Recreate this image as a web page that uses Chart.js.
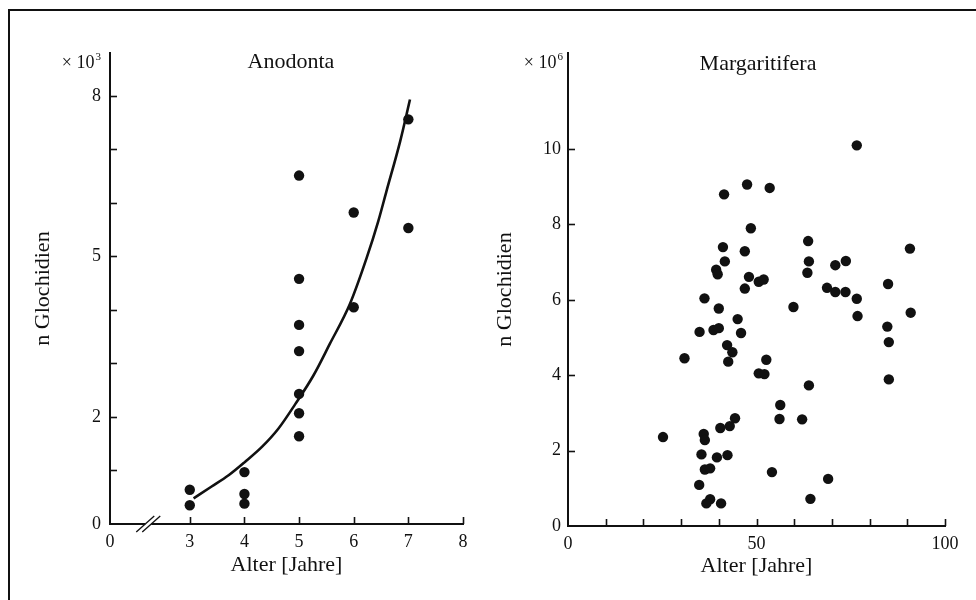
<!DOCTYPE html>
<html>
<head>
<meta charset="utf-8">
<script src="https://cdn.jsdelivr.net/npm/chart.js@4.4.1/dist/chart.umd.min.js"></script>
<style>
  html, body { margin: 0; background: #fff; overflow: hidden; }
  #frame { position: absolute; left: 8px; top: 9px; width: 980px; height: 600px;
           border-top: 2px solid #111; border-left: 2px solid #111; }
  .panel { position: absolute; top: 0; width: 488px; height: 600px; }
</style>
</head>
<body>
<div id="frame"></div>
<div class="panel" style="left:0"><canvas id="anodonta" width="488" height="600"></canvas></div>
<div class="panel" style="left:488px"><canvas id="margaritifera" width="488" height="600"></canvas></div>
<script>
// Anodonta: age (years) vs. glochidia (x 10^3)
const anodontaAge = [3, 3, 4, 4, 4, 5, 5, 5, 5, 5, 5, 5, 6, 6, 7, 7];
const anodontaCount = [0.64, 0.35, 0.97, 0.56, 0.38, 6.51, 4.58, 3.72, 3.23, 2.43, 2.07, 1.64, 5.82, 4.05, 7.56, 5.53];
// fitted curve
const fitAge = [3.07, 3.4, 3.71, 4.01, 4.32, 4.62, 4.93, 5.26, 5.56, 5.93, 6.24, 6.45, 6.6, 6.85, 7.03];
const fitCount = [0.48, 0.7, 0.91, 1.16, 1.44, 1.78, 2.24, 2.77, 3.36, 4.11, 4.98, 5.66, 6.22, 7.15, 7.93];

// Margaritifera: age (years) vs. glochidia (x 10^6)
const margAge = [76.6, 47.5, 53.5, 41.4, 48.5, 63.7, 41.1, 90.7, 46.9, 41.6, 63.9, 73.7, 70.9, 39.3, 39.7, 63.5, 48.0,
  50.6, 51.9, 84.9, 46.9, 68.7, 70.9, 73.6, 36.2, 76.6, 59.8, 40.0, 76.8, 90.9, 45.0, 34.9, 38.6, 40.0, 45.9, 84.7,
  85.1, 42.2, 43.6, 42.5, 30.9, 52.6, 50.6, 52.1, 85.1, 63.9, 56.3, 56.1, 62.1, 44.3, 42.9, 40.4, 25.2, 36.0, 36.3,
  35.4, 39.5, 42.3, 36.3, 37.7, 54.1, 69.0, 34.8, 37.7, 36.7, 40.6, 64.3];
const margCount = [10.1, 9.06, 8.97, 8.8, 7.9, 7.56, 7.4, 7.36, 7.29, 7.02, 7.02, 7.03, 6.92, 6.8, 6.68, 6.72, 6.61,
  6.48, 6.54, 6.42, 6.3, 6.32, 6.21, 6.21, 6.04, 6.03, 5.81, 5.77, 5.57, 5.66, 5.49, 5.15, 5.2, 5.25, 5.12, 5.29,
  4.88, 4.8, 4.61, 4.36, 4.45, 4.41, 4.05, 4.03, 3.89, 3.73, 3.21, 2.84, 2.83, 2.86, 2.65, 2.6, 2.36, 2.44, 2.28,
  1.9, 1.82, 1.88, 1.5, 1.53, 1.43, 1.25, 1.09, 0.71, 0.6, 0.6, 0.72];

// ticks
const leftXOrigin = 1.54; // start of the broken x axis, labelled "0"
const leftXTicks = [3, 4, 5, 6, 7, 8];
const leftYTicks = [0, 1, 2, 3, 4, 5, 6, 7, 8];
const leftYLabels = [0, 2, 5, 8];
const rightXTicks = [0, 10, 20, 30, 40, 50, 60, 70, 80, 90, 100];
const rightXLabels = [0, 50, 100];
const rightYTicks = [0, 2, 4, 6, 8, 10];

const INK = '#111';
const FONT = "'Liberation Serif', 'Times New Roman', serif";
Chart.defaults.font.family = FONT;
Chart.defaults.color = INK;

const toPoints = (xs, ys) => xs.map((x, i) => ({ x, y: ys[i] }));

// inward tick marks, axis break, panel title and exponent label
const panelDecor = {
  id: 'panelDecor',
  afterDraw: (chart, _args, opts) => {
    const { ctx, chartArea } = chart;
    const xs = chart.scales.x;
    const ys = chart.scales.y;
    const line = (x1, y1, x2, y2) => {
      ctx.beginPath();
      ctx.moveTo(x1, y1);
      ctx.lineTo(x2, y2);
      ctx.stroke();
    };
    ctx.save();
    ctx.strokeStyle = INK;
    ctx.lineWidth = 1.6;
    opts.xTicks.forEach((v) => {
      if (v <= xs.min) return;
      const px = Math.round(xs.getPixelForValue(v)) + 0.5;
      line(px, chartArea.bottom, px, chartArea.bottom - 7);
    });
    opts.yTicks.forEach((v) => {
      if (v <= ys.min) return;
      const py = Math.round(ys.getPixelForValue(v)) + 0.5;
      line(chartArea.left, py, chartArea.left + 7, py);
    });

    if (opts.breakAt) {
      const bx = xs.getPixelForValue(opts.breakAt);
      const by = chartArea.bottom;
      ctx.fillStyle = '#fff';
      ctx.fillRect(bx - 3, by - 3, 6, 6);
      ctx.lineWidth = 1.4;
      line(bx - 12, by + 8, bx + 6, by - 8);
      line(bx - 6, by + 8, bx + 12, by - 8);
    }

    ctx.fillStyle = INK;
    ctx.textBaseline = 'alphabetic';
    ctx.textAlign = 'center';
    ctx.font = `22px ${FONT}`;
    ctx.fillText(opts.title, opts.titleX, opts.titleY);

    // "x 10^n" above the y axis
    ctx.textAlign = 'right';
    ctx.font = `11px ${FONT}`;
    ctx.fillText(opts.power, opts.expX, opts.expY - 8);
    const supW = ctx.measureText(opts.power).width + 1;
    ctx.font = `18px ${FONT}`;
    ctx.fillText('\u00d7 10', opts.expX - supW, opts.expY);
    ctx.restore();
  },
};
Chart.register(panelDecor);

const axisBase = {
  type: 'linear',
  grid: { display: false, drawTicks: false },
  border: { display: true, color: INK, width: 2 },
};

new Chart(document.getElementById('anodonta'), {
  type: 'scatter',
  data: {
    datasets: [
      {
        data: toPoints(anodontaAge, anodontaCount),
        pointRadius: 5.2,
        backgroundColor: INK,
        borderWidth: 0,
      },
      {
        type: 'line',
        data: toPoints(fitAge, fitCount),
        borderColor: INK,
        borderWidth: 2.6,
        pointRadius: 0,
        cubicInterpolationMode: 'monotone',
        fill: false,
      },
    ],
  },
  options: {
    responsive: false,
    animation: false,
    events: [],
    layout: { padding: { top: 53, right: 25, left: 0, bottom: 0 } },
    plugins: {
      legend: { display: false },
      tooltip: { enabled: false },
      panelDecor: {
        title: 'Anodonta', titleX: 291, titleY: 68,
        power: '3', expX: 101, expY: 68,
        xTicks: leftXTicks, yTicks: leftYTicks, breakAt: 2.24,
      },
    },
    scales: {
      x: {
        ...axisBase,
        min: leftXOrigin,
        max: 8,
        afterBuildTicks: (s) => { s.ticks = [leftXOrigin, ...leftXTicks].map((value) => ({ value })); },
        afterFit: (s) => { s.height = 76; },
        ticks: {
          autoSkip: false, maxRotation: 0, padding: 7, font: { size: 18 },
          callback: (v) => (v === leftXOrigin ? '0' : String(v)),
        },
        title: { display: true, text: 'Alter [Jahre]', font: { size: 22 }, padding: { top: 0, bottom: 22 } },
      },
      y: {
        ...axisBase,
        min: 0,
        max: 8.8,
        afterBuildTicks: (s) => { s.ticks = leftYTicks.map((value) => ({ value })); },
        afterFit: (s) => { s.width = 110; },
        ticks: {
          autoSkip: false, padding: 9, font: { size: 18 },
          callback: (v) => (leftYLabels.includes(v) ? String(v) : ''),
        },
        title: { display: true, text: 'n Glochidien', font: { size: 22 }, padding: { top: 30, bottom: 0 } },
      },
    },
  },
});

new Chart(document.getElementById('margaritifera'), {
  type: 'scatter',
  data: {
    datasets: [
      {
        data: toPoints(margAge, margCount),
        pointRadius: 5.2,
        backgroundColor: INK,
        borderWidth: 0,
      },
    ],
  },
  options: {
    responsive: false,
    animation: false,
    events: [],
    layout: { padding: { top: 53, right: 31, left: 0, bottom: 0 } },
    plugins: {
      legend: { display: false },
      tooltip: { enabled: false },
      panelDecor: {
        title: 'Margaritifera', titleX: 270, titleY: 70,
        power: '6', expX: 75, expY: 68,
        xTicks: rightXTicks, yTicks: rightYTicks,
      },
    },
    scales: {
      x: {
        ...axisBase,
        min: 0,
        max: 100,
        afterBuildTicks: (s) => { s.ticks = rightXTicks.map((value) => ({ value })); },
        afterFit: (s) => { s.height = 74; },
        ticks: {
          autoSkip: false, maxRotation: 0, padding: 7, font: { size: 18 },
          callback: (v) => (rightXLabels.includes(v) ? String(v) : ''),
        },
        title: { display: true, text: 'Alter [Jahre]', font: { size: 22 }, padding: { top: 0, bottom: 21 } },
      },
      y: {
        ...axisBase,
        min: 0,
        max: 12.55,
        afterBuildTicks: (s) => { s.ticks = rightYTicks.map((value) => ({ value })); },
        afterFit: (s) => { s.width = 80; },
        ticks: { autoSkip: false, padding: 7, font: { size: 18 } },
        title: { display: true, text: 'n Glochidien', font: { size: 22 }, padding: { top: 4, bottom: 0 } },
      },
    },
  },
});
</script>
</body>
</html>
